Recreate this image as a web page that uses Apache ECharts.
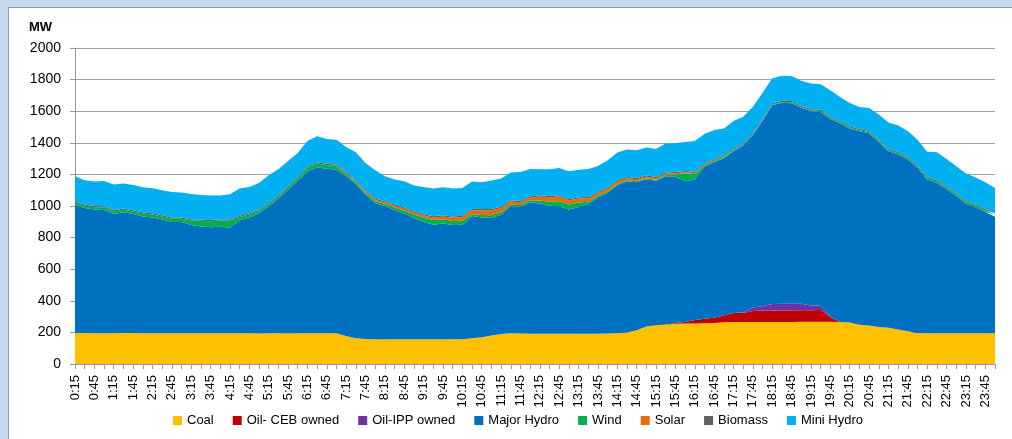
<!DOCTYPE html>
<html>
<head>
<meta charset="utf-8">
<script src="https://cdn.jsdelivr.net/npm/echarts@6/dist/echarts.min.js"></script>
<style>
html,body{margin:0;padding:0;width:1012px;height:439px;overflow:hidden;background:#C6D9F1;}
#frame{position:absolute;left:8px;top:7px;width:1010px;height:440px;background:#fff;border-left:1px solid #9A9A9A;border-top:1px solid #9A9A9A;}
#chart{position:absolute;left:0;top:0;width:1003px;height:431px;}
</style>
</head>
<body>
<div id="frame"><div id="chart"></div></div>
<script>
const times = [
"0:15","0:30","0:45","1:00","1:15","1:30","1:45","2:00","2:15","2:30","2:45","3:00",
"3:15","3:30","3:45","4:00","4:15","4:30","4:45","5:00","5:15","5:30","5:45","6:00",
"6:15","6:30","6:45","7:00","7:15","7:30","7:45","8:00","8:15","8:30","8:45","9:00",
"9:15","9:30","9:45","10:00","10:15","10:30","10:45","11:00","11:15","11:30","11:45","12:00",
"12:15","12:30","12:45","13:00","13:15","13:30","13:45","14:00","14:15","14:30","14:45","15:00",
"15:15","15:30","15:45","16:00","16:15","16:30","16:45","17:00","17:15","17:30","17:45","18:00",
"18:15","18:30","18:45","19:00","19:15","19:30","19:45","20:00","20:15","20:30","20:45","21:00",
"21:15","21:30","21:45","22:00","22:15","22:30","22:45","23:00","23:15","23:30","23:45","0:00"];

const coal = [
196,196,195,195,195,196,196,195,194,194,195,195,
195,194,194,194,194,194,194,193,194,194,193,194,
195,195,195,195,178,163,158,157,157,157,157,157,
157,156,157,156,156,163,170,180,190,195,193,192,
192,192,192,192,192,192,192,193,195,200,213,238,
245,250,254,256,256,258,260,265,266,266,266,266,
266,266,266,267,268,268,268,266,262,249,243,234,
230,218,207,195,195,195,195,195,195,195,195,195];

const oilCEB = [
0,0,0,0,0,0,0,0,0,0,0,0,
0,0,0,0,0,0,0,0,0,0,0,0,
0,0,0,0,0,0,0,0,0,0,0,0,
0,0,0,0,0,0,0,0,0,0,0,0,
0,0,0,0,0,0,0,0,0,0,0,0,
0,0,5,10,23,29,32,42,57,57,70,73,
73,73,73,73,72,74,29,0,0,0,0,0,
0,0,0,0,0,0,0,0,0,0,0,0];

const oilIPP = [
0,0,0,0,0,0,0,0,0,0,0,0,
0,0,0,0,0,0,0,0,0,0,0,0,
0,0,0,0,0,0,0,0,0,0,0,0,
0,0,0,0,0,0,0,0,0,0,0,0,
0,0,0,0,0,0,0,0,0,0,0,0,
0,0,0,0,0,0,0,0,0,3,21,26,
40,42,42,42,31,27,2,0,0,0,0,0,
0,0,0,0,0,0,0,0,0,0,0,0];

const majorHydro = [
812,791,783,780,754,765,753,739,734,721,704,704,
685,677,672,674,668,715,734,761,803,853,909,964,
1022,1050,1041,1035,1010,974,914,861,842,817,795,767,
741,726,732,723,726,774,758,744,755,803,801,832,
824,810,806,786,802,823,861,891,937,956,938,931,
915,938,926,891,889,961,985,995,1023,1057,1089,1175,
1259,1272,1270,1240,1228,1226,1252,1256,1228,1224,1217,1171,
1116,1108,1087,1047,973,951,913,869,817,796,767,737];

const wind = [
14,14,14,15,16,15,16,18,18,18,20,20,
28,35,38,40,44,22,18,15,14,13,15,18,
22,24,24,22,15,12,12,12,13,16,18,22,
28,30,27,26,25,10,15,18,15,10,12,12,
19,25,32,32,28,12,10,8,8,6,6,5,
6,8,15,50,35,10,8,7,6,5,5,5,
5,5,5,5,6,6,6,6,7,7,7,7,
7,8,8,8,8,9,9,10,10,10,11,12];

const solar = [
0,0,0,0,0,0,0,0,0,0,0,0,
0,0,0,0,0,0,0,0,0,0,0,0,
0,0,0,2,4,6,8,9,10,11,12,13,
14,15,17,20,24,26,30,31,28,20,18,18,
25,28,30,25,25,22,18,17,15,14,12,12,
10,8,7,6,6,4,3,2,1,0,0,0,
0,0,0,0,0,0,0,0,0,0,0,0,
0,0,0,0,0,0,0,0,0,0,0,0];

const biomass = [
8,8,8,8,8,8,8,8,8,8,8,8,
8,8,8,8,8,8,8,8,8,8,8,8,
8,8,8,8,8,8,8,8,8,8,8,8,
8,8,8,8,8,8,8,8,8,8,8,8,
8,8,8,8,8,8,8,8,8,8,8,8,
8,8,8,8,8,8,8,8,8,8,8,8,
8,8,8,8,8,8,8,8,8,8,8,8,
8,8,8,8,8,8,8,8,8,8,8,8];

const miniHydro = [
158,154,155,160,163,158,160,158,158,159,162,158,
160,156,154,150,160,171,166,169,175,164,160,152,
165,164,156,158,159,177,172,179,158,158,167,162,
172,175,177,177,175,174,169,180,178,176,183,172,
164,169,172,177,175,177,164,172,175,173,176,176,
176,183,184,184,194,185,185,172,177,169,169,164,
157,159,159,158,163,162,168,154,147,139,146,159,
167,167,165,162,160,177,173,169,175,171,169,162];

const yTicks = {min: 0, max: 2000, interval: 200};

const seriesDefs = [
  {name: 'Coal', data: coal, color: '#FFC000'},
  {name: 'Oil- CEB owned', data: oilCEB, color: '#C00000'},
  {name: 'Oil-IPP owned', data: oilIPP, color: '#7030A0'},
  {name: 'Major Hydro', data: majorHydro, color: '#0070C0'},
  {name: 'Wind', data: wind, color: '#00B050'},
  {name: 'Solar', data: solar, color: '#E46C0A'},
  {name: 'Biomass', data: biomass, color: '#5F5F5F'},
  {name: 'Mini Hydro', data: miniHydro, color: '#00B0F0'}
];

const FONT = '"Liberation Sans", Arial, sans-serif';
const chart = echarts.init(document.getElementById('chart'), null, {renderer: 'canvas'});
chart.setOption({
  animation: false,
  textStyle: {fontFamily: FONT},
  title: {
    text: 'MW', left: 20, top: 13, padding: 0,
    textStyle: {fontSize: 13, fontWeight: 'bold', color: '#000', fontFamily: FONT}
  },
  legend: {
    left: 164, top: 406, padding: 0,
    icon: 'rect', itemWidth: 9, itemHeight: 9, itemGap: 19,
    textStyle: {fontSize: 13, color: '#000', fontFamily: FONT},
    data: seriesDefs.map(s => s.name)
  },
  grid: {left: 66, right: 17, top: 40, bottom: 75, containLabel: false},
  xAxis: {
    type: 'category', data: times, boundaryGap: false,
    axisLine: {lineStyle: {color: '#9A9A9A', width: 1}},
    axisTick: {show: true, interval: 0, length: 5, lineStyle: {color: '#9A9A9A'}},
    axisLabel: {interval: 1, rotate: 90, margin: 11, fontSize: 13, color: '#000', fontFamily: FONT},
    splitLine: {show: false}
  },
  yAxis: {
    type: 'value', min: yTicks.min, max: yTicks.max, interval: yTicks.interval,
    axisLine: {show: true, lineStyle: {color: '#9A9A9A', width: 1}},
    axisTick: {show: true, length: 5, lineStyle: {color: '#9A9A9A'}},
    axisLabel: {margin: 14, fontSize: 14, color: '#000', fontFamily: FONT, formatter: v => String(v)},
    splitLine: {lineStyle: {color: '#A0A0A0', width: 1}}
  },
  series: seriesDefs.map(s => ({
    name: s.name, type: 'line', stack: 'total', data: s.data,
    symbol: 'none', smooth: false,
    lineStyle: {width: 0, color: s.color},
    itemStyle: {color: s.color},
    areaStyle: {color: s.color, opacity: 1}
  }))
});
</script>
</body>
</html>
